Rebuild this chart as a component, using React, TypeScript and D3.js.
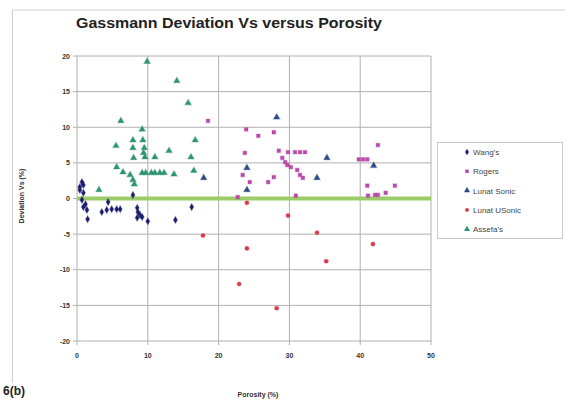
import React from "react";
import * as d3 from "d3";

const xTicks = [0, 10, 20, 30, 40, 50];
const yTicks = [-20, -15, -10, -5, 0, 5, 10, 15, 20];

const wangX = [0.7, 0.9, 0.4, 0.9, 0.7, 0.9, 1.4, 1.5, 4.4, 3.5, 4.2, 4.9, 5.6, 6.1, 7.9, 8.5, 8.6, 8.9, 8.5, 9.2, 10.0, 13.9, 16.2, 0.4, 1.2];
const wangY = [2.3, 1.9, 1.2, 0.8, -0.2, -1.2, -1.6, -2.9, -0.5, -1.9, -1.6, -1.5, -1.5, -1.5, 0.5, -1.3, -1.9, -2.3, -2.7, -2.6, -3.2, -3.0, -1.2, 1.6, -0.8];

const rogersX = [18.5, 23.9, 25.6, 27.8, 23.7, 28.5, 29.8, 30.8, 31.5, 32.2, 29.0, 29.4, 29.7, 30.2, 31.1, 31.5, 31.9, 23.4, 24.4, 27.0, 27.8, 22.7, 30.9, 42.5, 39.8, 40.4, 41.0, 41.0, 41.1, 42.1, 42.5, 43.6, 44.9];
const rogersY = [10.9, 9.7, 8.8, 9.3, 6.4, 6.7, 6.5, 6.5, 6.5, 6.5, 5.7, 5.1, 4.7, 4.4, 4.0, 3.3, 2.9, 3.3, 2.3, 2.3, 3.0, 0.2, 0.4, 7.5, 5.5, 5.5, 5.5, 1.8, 0.4, 0.5, 0.5, 0.8, 1.8];

const sonicX = [17.9, 28.2, 24.0, 24.0, 33.9, 35.3, 41.9];
const sonicY = [2.9, 11.4, 4.3, 1.2, 2.9, 5.7, 4.6];

const usonicX = [17.8, 24.0, 22.9, 28.2, 33.9, 35.2, 41.8, 29.8, 24.0];
const usonicY = [-5.2, -7.0, -12.0, -15.4, -4.8, -8.8, -6.4, -2.4, -0.6];

const assefaX = [9.9, 14.1, 15.7, 6.2, 9.2, 7.9, 9.3, 16.7, 5.5, 7.9, 9.5, 9.4, 13.0, 8.0, 9.6, 11.0, 16.1, 5.6, 6.5, 7.5, 7.9, 8.1, 9.2, 9.7, 10.5, 11.0, 11.7, 12.3, 13.7, 16.5, 3.1];
const assefaY = [19.2, 16.5, 13.4, 10.9, 9.7, 8.2, 8.2, 8.2, 7.4, 7.1, 7.1, 6.4, 6.7, 5.7, 5.8, 5.8, 5.8, 4.4, 3.7, 3.3, 2.6, 2.0, 3.6, 3.6, 3.6, 3.6, 3.6, 3.6, 3.4, 3.9, 1.2];

const seriesNames = ["Wang's", "Rogers", "Lunat Sonic", "Lunat USonic", "Assefa's"];

const series = [
  { name: seriesNames[0], xs: wangX, ys: wangY, color: "#1c1c6e", shape: d3.symbolDiamond },
  { name: seriesNames[1], xs: rogersX, ys: rogersY, color: "#b84aa8", shape: d3.symbolSquare },
  { name: seriesNames[2], xs: sonicX, ys: sonicY, color: "#2e4a86", shape: d3.symbolTriangle },
  { name: seriesNames[3], xs: usonicX, ys: usonicY, color: "#d83848", shape: d3.symbolCircle },
  { name: seriesNames[4], xs: assefaX, ys: assefaY, color: "#2f9470", shape: d3.symbolTriangle },
];

export default function App() {
  const W = 565, H = 402;
  const left = 77, right = 431, top = 56, bottom = 341;
  const x = d3.scaleLinear().domain([0, 50]).range([left, right]);
  const y = d3.scaleLinear().domain([-20, 20]).range([bottom, top]);
  const sym = (shape: any, size: number) => d3.symbol().type(shape).size(size)() as string;
  const font = "Arial, 'Liberation Sans', sans-serif";

  return (
    <svg width={W} height={H} style={{ position: "absolute", left: 0, top: 0, background: "#fff" }}>
      <rect x={0} y={0} width={W} height={H} fill="#fff" />
      <line x1={12} y1={10} x2={W} y2={10} stroke="#d0d0d0" />
      <line x1={12.5} y1={10} x2={12.5} y2={383} stroke="#d0d0d0" />
      <text x={229} y={28} textAnchor="middle" fontFamily={font} fontWeight="bold" fontSize={14.5} fill="#222" textLength={306} lengthAdjust="spacingAndGlyphs">
        Gassmann Deviation Vs versus Porosity
      </text>
      {yTicks.map((t) => (
        <line key={"gy" + t} x1={left - 4} x2={right} y1={y(t)} y2={y(t)} stroke="#b0b0b0" strokeWidth={1} />
      ))}
      {xTicks.map((t) => (
        <line key={"gx" + t} x1={x(t)} x2={x(t)} y1={top} y2={bottom + 4} stroke="#b0b0b0" strokeWidth={1} />
      ))}
      {yTicks.map((t) => (
        <text key={"ty" + t} x={left - 7} y={y(t) + 2.5} textAnchor="end" fontFamily={font} fontWeight="bold" fontSize={7} fill="#333">
          {t}
        </text>
      ))}
      {xTicks.map((t) => (
        <text key={"tx" + t} x={x(t)} y={bottom + 17} textAnchor="middle" fontFamily={font} fontWeight="bold" fontSize={7} fill="#333">
          {t}
        </text>
      ))}
      <line x1={x(0)} x2={x(50)} y1={y(0)} y2={y(0)} stroke="#9ccc6a" strokeWidth={4} />
      {series.map((s) =>
        s.xs.map((vx, i) => (
          <path
            key={s.name + i}
            d={sym(s.shape, s.shape === d3.symbolTriangle ? 17 : 13)}
            transform={`translate(${x(vx)},${y(s.ys[i])})`}
            fill={s.color}
            stroke={s.color}
            strokeOpacity={0.35}
            strokeWidth={1.2}
          />
        ))
      )}
      <text transform={`translate(24,196) rotate(-90)`} textAnchor="middle" fontFamily={font} fontWeight="bold" fontSize={7} fill="#333">
        Deviation Vs (%)
      </text>
      <text x={258} y={397} textAnchor="middle" fontFamily={font} fontWeight="bold" fontSize={7} fill="#333">
        Porosity (%)
      </text>
      <text x={3} y={395} fontFamily={font} fontWeight="bold" fontSize={12} fill="#222">
        6(b)
      </text>
      <rect x={437.5} y={142.5} width={125} height={96} fill="#fff" stroke="#c8c8c8" />
      {series.map((s, i) => (
        <g key={"lg" + i} transform={`translate(0,${152 + i * 19.3})`}>
          <path d={sym(s.shape, s.shape === d3.symbolTriangle ? 16 : 12)} transform="translate(467,0)" fill={s.color} />
          <text x={473} y={3} fontFamily={font} fontSize={8} fill="#444">
            {s.name}
          </text>
        </g>
      ))}
    </svg>
  );
}
